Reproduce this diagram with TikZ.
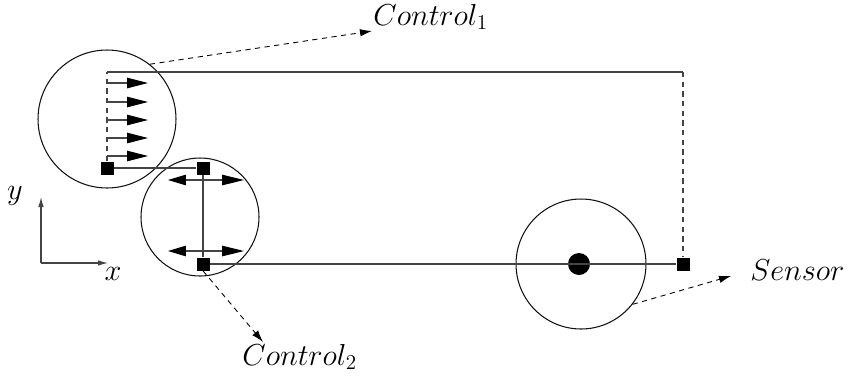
\documentclass[tikz,border=0pt]{standalone}
\usepackage{tikz}
\usetikzlibrary{arrows.meta,positioning,calc}
\definecolor{ink}{HTML}{111111}
\definecolor{wire}{HTML}{444444}
\tikzset{
  ring/.style={draw=ink,circle,line width=0.6pt,inner sep=0pt},
  joint/.style={fill=black,draw=none,rectangle,minimum size=0.26cm,inner sep=0pt},
  hub/.style={fill=black,draw=none,circle,minimum size=0.44cm,inner sep=0pt},
  rod/.style={draw=wire,line width=0.6pt},
  guide/.style={draw=wire,line width=0.6pt,dashed,dash pattern=on 3pt off 2.5pt},
  callout/.style={-{Latex[length=2.4mm,width=1.5mm,black]},draw=black,line width=0.5pt,dash pattern=on 3pt off 2.5pt},
  push/.style={-{Triangle[length=4.2mm,width=2.1mm,black]},draw=wire,line width=0.6pt},
  slide/.style={{Triangle[length=3.6mm,width=2.1mm,black]}-{Triangle[length=4.4mm,width=2.1mm,black]},draw=wire,line width=0.6pt},
  axis/.style={-{Latex[length=2mm,width=1.1mm]},draw=wire,line width=0.6pt},
  tag/.style={font=\fontsize{18}{22}\selectfont,inner sep=0pt}
}
\begin{document}
\begin{tikzpicture}[x=0.02cm,y=-0.02cm]
  \useasboundingbox (0,0) rectangle (851,383);

  \node[ring,minimum size=2.76cm] (lensA) at (107,119) {};
  \node[ring,minimum size=2.36cm] (lensB) at (200,217) {};
  \node[ring,minimum size=2.60cm] (lensC) at (581,264) {};

  \node[joint] (baseA) at (107,168) {};
  \node[joint] (topB) at (203,168) {};
  \node[joint] (botB) at (203,264) {};
  \node[joint] (probe) at (683,264) {};
  \node[hub] (spot) at (579,264) {};

  \coordinate (cornerA) at (107,72);
  \coordinate (cornerB) at (683,72);

  \draw[rod] (cornerA) -- (cornerB);
  \draw[guide] (cornerB) -- (probe);
  \draw[guide] (baseA) -- (cornerA);
  \draw[rod] (baseA) -- (topB);
  \draw[rod] (topB) -- (botB);
  \draw[rod] (botB) -- (probe);

  \foreach \yy in {83,102,120,138,156}
    \draw[push] (107,\yy) -- (148,\yy);

  \draw[slide] (168,180) -- (244,180);
  \draw[slide] (168,251) -- (244,251);

  \coordinate (origin) at (41,263);
  \coordinate (yend) at (41,197);
  \coordinate (xend) at (108,263);
  \draw[axis] (origin) -- (yend);
  \draw[axis] (origin) -- (xend);
  \node[tag] (ylab) at (15,196) {$y$};
  \node[tag] (xlab) at (113,274) {$x$};

  \node[tag,anchor=west] (ctrlA) at (373,17) {$Control_1$};
  \node[tag,anchor=west] (ctrlB) at (242,357) {$Control_2$};
  \node[tag,anchor=west] (sense) at (750,270) {$Sensor$};

  \coordinate (ctrlAtip) at (372,31);
  \coordinate (ctrlBtip) at (263,342);
  \coordinate (sensetip) at (731,276);

  \draw[callout] (lensA.52) -- (ctrlAtip);
  \draw[callout] (botB.south) -- (ctrlBtip);
  \draw[callout] (lensC.-38) -- (sensetip);
\end{tikzpicture}
\end{document}
